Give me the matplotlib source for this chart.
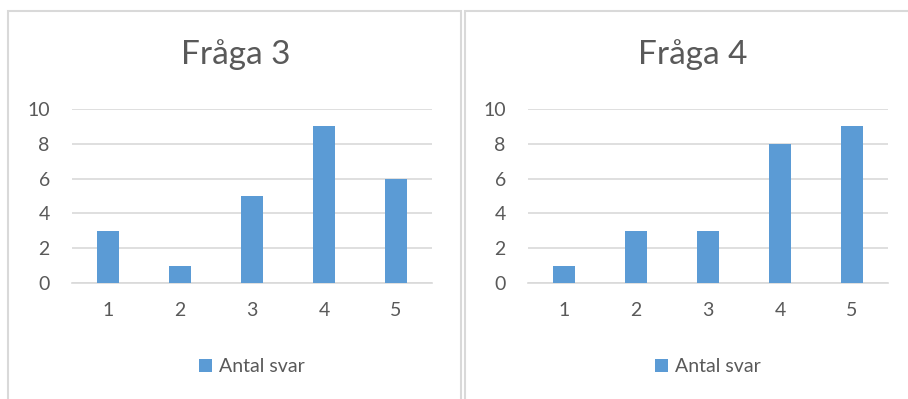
import matplotlib
matplotlib.use("Agg")
import matplotlib.pyplot as plt
from matplotlib.patches import Rectangle

plt.rcParams['font.family'] = ['Lato', 'DejaVu Sans']

categories = ['1', '2', '3', '4', '5']
fraga3 = [3, 1, 5, 9, 6]
fraga4 = [1, 3, 3, 8, 9]
titles = ['Fråga 3', 'Fråga 4']
series_name = 'Antal svar'
yticks = [0, 2, 4, 6, 8, 10]

W, H = 908, 399
bar_color = '#5B9BD5'
grid_color = '#D9D9D9'
text_color = '#595959'

fig = plt.figure(figsize=(W / 100, H / 100), dpi=100)


def px(x0, y0, x1, y1):
    # pixel box (top-left origin) -> figure fraction
    return [x0 / W, 1 - y1 / H, (x1 - x0) / W, (y1 - y0) / H]


# panel frames
for x0, x1 in [(8, 461), (465, 912)]:
    fig.patches.append(Rectangle((x0 / W, -0.05), (x1 - x0) / W, 1 - 10.5 / H + 0.05,
                                 transform=fig.transFigure, fill=False,
                                 edgecolor='#D9D9D9', linewidth=1.5))

panels = [(72, 432, 236, fraga3), (528, 888, 693, fraga4)]
for (ax0, ax1, cx, values), title in zip(panels, titles):
    ax = fig.add_axes(px(ax0, 109, ax1, 283))
    x = range(len(categories))
    ax.bar(x, values, width=0.31, color=bar_color, label=series_name, zorder=3)
    ax.set_xlim(-0.5, len(categories) - 0.5)
    ax.set_ylim(0, 10)
    ax.set_yticks(yticks)
    ax.set_xticks(list(x))
    ax.set_xticklabels(categories)
    ax.grid(axis='y', color=grid_color, linewidth=1.2, zorder=0)
    for s in ['top', 'right', 'left']:
        ax.spines[s].set_visible(False)
    ax.spines['bottom'].set_color(grid_color)
    ax.spines['bottom'].set_linewidth(1.2)
    ax.tick_params(axis='both', length=0, labelsize=14, colors=text_color)
    ax.tick_params(axis='y', pad=16)
    ax.tick_params(axis='x', pad=14)
    fig.text(cx / W, 1 - 55 / H, title, ha='center', va='center',
             fontsize=24, color=text_color)
    ax.legend(loc='center', bbox_to_anchor=(0.5, -0.48), frameon=False,
              fontsize=14, handlelength=0.65, handleheight=0.65,
              handletextpad=0.35, labelcolor=text_color)

fig.savefig('out.png', dpi=100)
